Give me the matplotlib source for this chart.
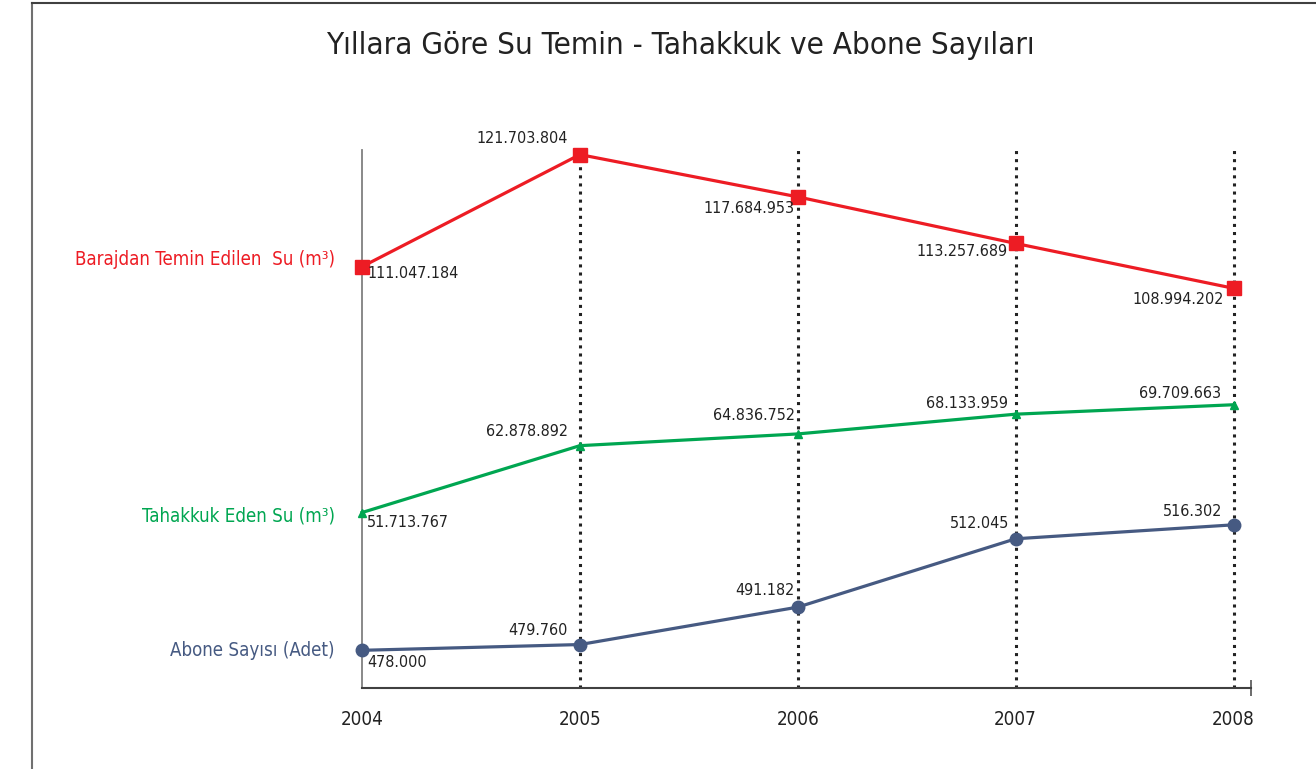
import matplotlib
matplotlib.use("Agg")
import matplotlib.pyplot as plt
from matplotlib.lines import Line2D

years = [2004, 2005, 2006, 2007, 2008]
baraj = [111047184, 121703804, 117684953, 113257689, 108994202]
tahakkuk = [51713767, 62878892, 64836752, 68133959, 69709663]
abone = [478000, 479760, 491182, 512045, 516302]

names = ["Barajdan Temin Edilen  Su (m³)", "Tahakkuk Eden Su (m³)", "Abone Sayısı (Adet)"]
colors = ["#ED1C24", "#00A651", "#465A82"]

plt.rcParams['font.family'] = ['DejaVu Sans']
FS = 'condensed'


def fmt(v):
    return f"{v:,}".replace(",", ".")


fig = plt.figure(figsize=(13.16, 7.69), dpi=100)
ax = fig.add_axes([362/1316, 1-688/769, 889/1316, 538/769])
ax.set_xlim(2004, 2008.08)
ax.set_ylim(0, 1)
ax.set_yticks([])
for s in ['top', 'right']:
    ax.spines[s].set_visible(False)
ax.spines['left'].set_color('#808080')
ax.spines['left'].set_linewidth(1.3)
ax.spines['bottom'].set_color('#404040')
ax.spines['bottom'].set_linewidth(1.5)
ax.set_xticks(years)
ax.set_xticklabels([str(y) for y in years], fontsize=13.5, color='#222222', fontstretch=FS)
ax.tick_params(axis='x', which='major', length=0, pad=16)
ax.set_xticks([2004, 2008.08], minor=True)
ax.tick_params(axis='x', which='minor', length=12, width=1.3, color='#606060', direction='inout')
ax.vlines(years[1:], 0, 1, colors='#222222', linestyles=':', linewidth=2.2)

# each series has its own vertical scale
limits = [(71.0e6, 122.14e6), (22.42e6, 112.24e6), (466.5e3, 630.7e3)]
series = [baraj, tahakkuk, abone]
markers = [('s', 10), ('^', 6), ('o', 9)]
label_off = [
    [(5, -7, 'left'), (-12, 16, 'right'), (-3, -12, 'right'), (-8, -8, 'right'), (-10, -11, 'right')],
    [(5, -10, 'left'), (-12, 14, 'right'), (-3, 18, 'right'), (-8, 11, 'right'), (-12, 11, 'right')],
    [(5, -12, 'left'), (-12, 14, 'right'), (-3, 17, 'right'), (-6, 15, 'right'), (-11, 13, 'right')],
]
name_off = [7, -3, 0]

for i in range(3):
    tw = ax.twinx()
    tw.set_ylim(*limits[i])
    tw.axis('off')
    tw.plot(years, series[i], color=colors[i], lw=2.3, marker=markers[i][0],
            markersize=markers[i][1], clip_on=False)
    for j in range(len(years)):
        dx, dy, ha = label_off[i][j]
        tw.annotate(fmt(series[i][j]), (years[j], series[i][j]), xytext=(dx, dy),
                    textcoords='offset pixels', ha=ha, va='center', fontsize=11.5,
                    color='#222222', fontstretch=FS)
    tw.annotate(names[i], (years[0], series[i][0]), xytext=(-27, name_off[i]),
                textcoords='offset pixels', ha='right', va='center', fontsize=13.4,
                color=colors[i], fontstretch=FS, annotation_clip=False)

fig.text(0.517, 1-45/769, "Yıllara Göre Su Temin - Tahakkuk ve Abone Sayıları",
         ha='center', va='center', fontsize=22.5, color='#222222', fontstretch=FS)

# outer frame
fig.add_artist(Line2D([32/1316, 32/1316], [0, 1-3/769], color='#707070', lw=1.5))
fig.add_artist(Line2D([32/1316, 1], [1-3/769, 1-3/769], color='#404040', lw=1.5))

fig.savefig("out.png", dpi=100)
